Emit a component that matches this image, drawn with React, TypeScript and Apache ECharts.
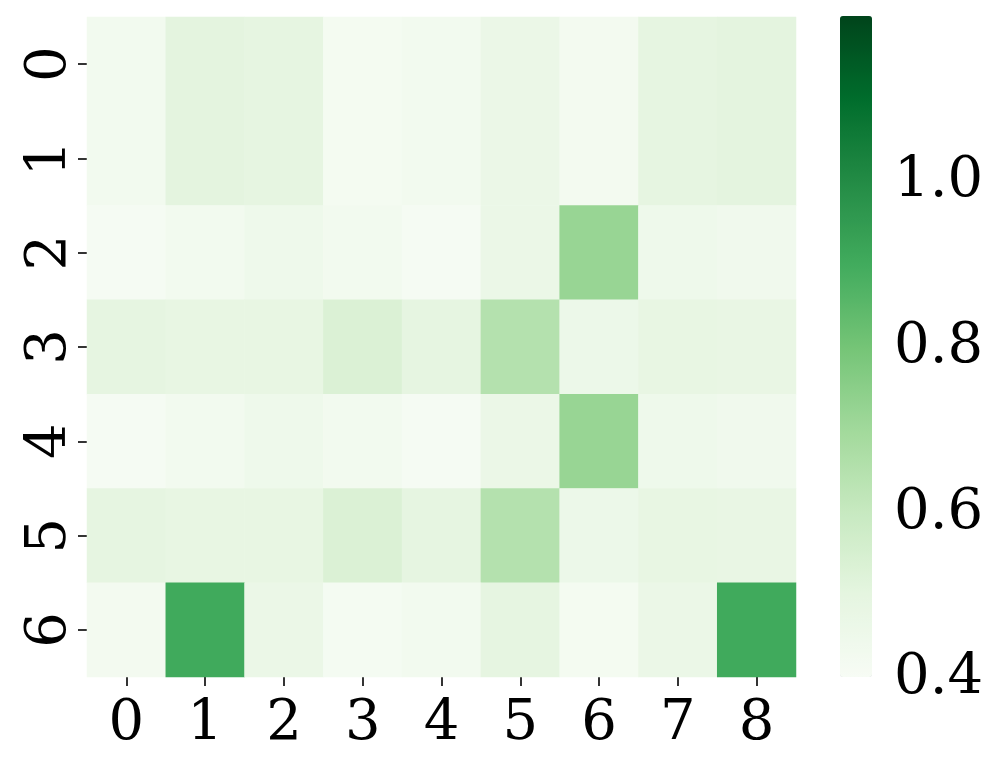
import React, { useEffect, useRef } from "react";
import * as echarts from "echarts";

const xCategories = ["0", "1", "2", "3", "4", "5", "6", "7", "8"];
const yCategories = ["0", "1", "2", "3", "4", "5", "6"];

const row0 = [0.424, 0.5, 0.49, 0.413, 0.424, 0.462, 0.418, 0.49, 0.5];
const row1 = [0.424, 0.5, 0.49, 0.413, 0.424, 0.462, 0.418, 0.49, 0.5];
const row2 = [0.405, 0.424, 0.445, 0.424, 0.405, 0.462, 0.715, 0.445, 0.435];
const row3 = [0.49, 0.48, 0.48, 0.53, 0.49, 0.645, 0.455, 0.48, 0.475];
const row4 = [0.405, 0.424, 0.445, 0.424, 0.405, 0.462, 0.715, 0.445, 0.435];
const row5 = [0.49, 0.48, 0.48, 0.53, 0.49, 0.645, 0.455, 0.48, 0.475];
const row6 = [0.418, 0.899, 0.462, 0.41, 0.424, 0.49, 0.413, 0.462, 0.899];
const rows = [row0, row1, row2, row3, row4, row5, row6];

const colorMin = 0.396;
const colorMax = 1.194;
const colorbarTicks = [0.4, 0.6, 0.8, 1.0];
const greens = [
  "#f7fcf5", "#e5f5e0", "#c7e9c0", "#a1d99b", "#74c476",
  "#41ab5d", "#238b45", "#006d2c", "#00441b",
];

const FONT = "DejaVu Serif";
const FS = 56;

export default function App() {
  const ref = useRef<HTMLDivElement>(null);
  useEffect(() => {
    if (!ref.current) return;
    const chart = echarts.init(ref.current, undefined, { renderer: "svg" });
    const data: number[][] = [];
    rows.forEach((r, yi) => r.forEach((v, xi) => data.push([xi, yi, v])));
    chart.setOption({
      animation: false,
      backgroundColor: "#ffffff",
      grid: [
        { left: 87, top: 17, width: 709, height: 660 },
        { left: 840, top: 16, width: 32, height: 661 },
      ],
      xAxis: [
        {
          type: "category",
          gridIndex: 0,
          data: xCategories,
          axisLine: { show: false },
          axisTick: { show: true, alignWithLabel: true, length: 9, lineStyle: { color: "#000", width: 1.6 } },
          axisLabel: { fontFamily: FONT, fontSize: FS, color: "#000", margin: 14, overflow: "none" },
          splitLine: { show: false },
        },
        { type: "value", gridIndex: 1, show: false, min: 0, max: 1 },
      ],
      yAxis: [
        {
          type: "category",
          gridIndex: 0,
          data: yCategories,
          inverse: true,
          axisLine: { show: false },
          axisTick: { show: true, alignWithLabel: true, length: 9, lineStyle: { color: "#000", width: 1.6 } },
          axisLabel: {
            fontFamily: FONT,
            fontSize: FS,
            color: "#000",
            rotate: 90,
            margin: 14,
            overflow: "none",
            width: 200,
          },
          splitLine: { show: false },
        },
        {
          type: "value",
          gridIndex: 1,
          position: "right",
          min: colorMin,
          max: colorMax,
          axisLine: { show: false },
          splitLine: { show: false },
          axisTick: {
            show: true,
            length: 9,
            customValues: colorbarTicks,
            lineStyle: { color: "#000", width: 1.6 },
          },
          axisLabel: {
            customValues: colorbarTicks,
            fontFamily: FONT,
            fontSize: FS,
            color: "#000",
            margin: 22,
            overflow: "none",
            formatter: (v: number) => v.toFixed(1),
          },
        },
      ],
      visualMap: {
        type: "continuous",
        min: colorMin,
        max: colorMax,
        calculable: false,
        show: true,
        left: 840,
        top: 16,
        padding: 0,
        itemWidth: 32,
        itemHeight: 661,
        text: ["", ""],
        seriesIndex: 0,
        inRange: { color: greens },
      },
      series: [
        {
          type: "heatmap",
          xAxisIndex: 0,
          yAxisIndex: 0,
          data,
          itemStyle: { borderWidth: 0 },
          emphasis: { disabled: true },
        },
        {
          type: "scatter",
          xAxisIndex: 1,
          yAxisIndex: 1,
          data: [],
        },
      ],
    });
    return () => chart.dispose();
  }, []);
  return (
    <div
      ref={ref}
      style={{ position: "fixed", left: 0, top: 0, width: 995, height: 766 }}
    />
  );
}
